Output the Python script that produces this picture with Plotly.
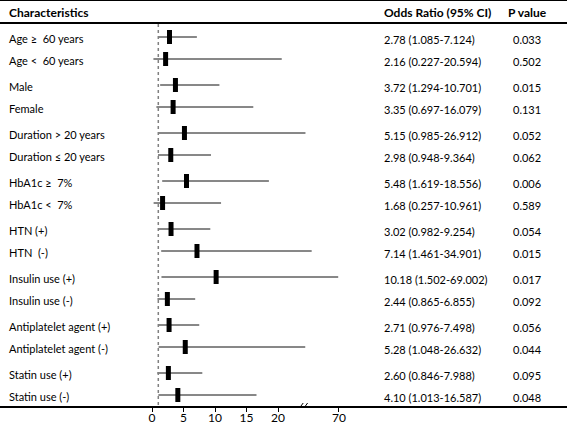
import plotly.graph_objects as go

# ---- data ----
characteristics = [
    "Age ≥\u00a0 60 years", "Age <\u00a0 60 years",
    "Male", "Female",
    "Duration > 20 years", "Duration ≤ 20 years",
    "HbA1c ≥\u00a0 7%", "HbA1c <\u00a0 7%",
    "HTN (+)", "HTN\u00a0 (-)",
    "Insulin use (+)", "Insulin use (-)",
    "Antiplatelet agent (+)", "Antiplatelet agent (-)",
    "Statin use (+)", "Statin use (-)",
]
odds_ratio = [2.78, 2.16, 3.72, 3.35, 5.15, 2.98, 5.48, 1.68,
              3.02, 7.14, 10.18, 2.44, 2.71, 5.28, 2.60, 4.10]
ci_low = [1.085, 0.227, 1.294, 0.697, 0.985, 0.948, 1.619, 0.257,
          0.982, 1.461, 1.502, 0.865, 0.976, 1.048, 0.846, 1.013]
ci_high = [7.124, 20.594, 10.701, 16.079, 26.912, 9.364, 18.556, 10.961,
           9.254, 34.901, 69.002, 6.855, 7.498, 26.632, 7.988, 16.587]
p_values = ["0.033", "0.502", "0.015", "0.131", "0.052", "0.062", "0.006", "0.589",
            "0.054", "0.015", "0.017", "0.092", "0.056", "0.044", "0.095", "0.048"]
tick_values = [0, 5, 10, 15, 20, 70]
tick_labels = ["0", "5", "10", "15", "20", "70"]
reference_or = 1

# ---- broken axis transform (0-24 linear, 24-70 compressed) ----
BREAK = 24.0
TOP_DISPLAY = 29.68
def disp(v):
    if v <= BREAK:
        return v
    return BREAK + (v - BREAK) * (TOP_DISPLAY - BREAK) / (70 - BREAK)

# row positions (pixel-like units, top = 0)
rows_y = [37 + 48 * (i // 2) + 22 * (i % 2) for i in range(len(characteristics))]

FONT = "Lato"
fs = 11

fig = go.Figure()

# CI lines
lx, ly = [], []
for lo, hi, y in zip(ci_low, ci_high, rows_y):
    lx += [disp(lo), disp(hi), None]
    ly += [y, y, None]
fig.add_trace(go.Scatter(x=lx, y=ly, mode="lines",
                         line=dict(color="#111111", width=1),
                         hoverinfo="skip", showlegend=False))

# point estimates
fig.add_trace(go.Scatter(x=[disp(v) for v in odds_ratio], y=rows_y, mode="markers",
                         marker=dict(symbol="line-ns", size=10,
                                     line=dict(color="black", width=5)),
                         showlegend=False))

px_per_unit = 6.3
x_left = -152 / px_per_unit
x_right = (567 - 152) / px_per_unit

shapes = [
    # reference line at OR = 1
    dict(type="line", xref="x", yref="y", x0=reference_or, x1=reference_or, y0=24, y1=406,
         line=dict(color="#808080", width=1.5, dash="dot")),
    # header rule
    dict(type="line", xref="paper", yref="y", x0=0, x1=1, y0=23, y1=23,
         line=dict(color="black", width=2)),
    # top border
    dict(type="line", xref="paper", yref="y", x0=0, x1=1, y0=0.5, y1=0.5,
         line=dict(color="black", width=1)),
]
# axis break mark "//"
bx = disp(BREAK)
for off in (-0.35, 0.35):
    shapes.append(dict(type="line", xref="x", yref="y",
                       x0=bx + off - 0.35, x1=bx + off + 0.35, y0=409, y1=403,
                       line=dict(color="black", width=1)))

annotations = []
def txt(x, y, s, anchor="left", bold=False, size=fs):
    annotations.append(dict(x=x, y=y, xref="paper", yref="y", text=f"<b>{s}</b>" if bold else s,
                            showarrow=False, xanchor=anchor, yanchor="middle",
                            font=dict(family=FONT, size=size, color="black")))

W = 567
OR_X = 382
P_X = 527
txt(7 / W, 12, "Characteristics", bold=True, size=12)
txt(OR_X / W, 12, "Odds Ratio (95% CI)", bold=True, size=12)
txt(P_X / W, 12, "P value", anchor="center", bold=True, size=12)
for name, orv, lo, hi, p, y in zip(characteristics, odds_ratio, ci_low, ci_high, p_values, rows_y):
    txt(7 / W, y + 1, name)
    txt(OR_X / W, y + 2, f"{orv:.2f} ({lo:.3f}-{hi:.3f})")
    txt(P_X / W, y + 2, p, anchor="center")

fig.update_layout(
    width=567, height=425,
    margin=dict(l=0, r=0, t=0, b=0, pad=0),
    paper_bgcolor="white", plot_bgcolor="white",
    shapes=shapes, annotations=annotations,
    xaxis=dict(range=[x_left, x_right], domain=[0, 1], automargin=False,
               tickvals=[disp(v) for v in tick_values], ticktext=tick_labels,
               ticks="outside", ticklen=4, tickwidth=1, tickcolor="black",
               ticklabelstandoff=-4,
               showline=True, linecolor="black", linewidth=1.5,
               showgrid=False, zeroline=False,
               tickfont=dict(family=FONT, size=12, color="black")),
    yaxis=dict(range=[406, 0], domain=[(425 - 406) / 425, 1], automargin=False,
               showgrid=False, zeroline=False, showticklabels=False, showline=False),
)

fig.write_html("out.html", config={"displayModeBar": False},
               post_script="document.body.style.margin='0';")
